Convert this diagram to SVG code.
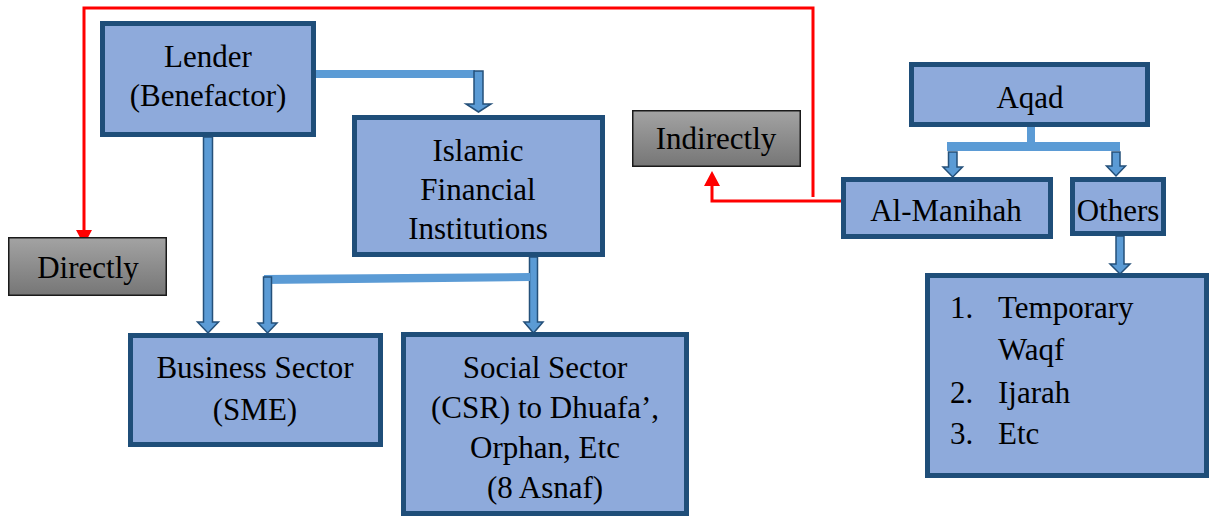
<svg xmlns="http://www.w3.org/2000/svg" width="1210" height="517" viewBox="0 0 1210 517">
<defs>
<linearGradient id="gray" x1="0" y1="0" x2="0" y2="1">
<stop offset="0" stop-color="#A3A3A3"/>
<stop offset="1" stop-color="#767676"/>
</linearGradient>
<style>
.box{fill:#8EAADB;stroke:#1F4E79;stroke-width:5}
.gbox{fill:url(#gray);stroke:#1a1a1a;stroke-width:1.5}
.t{font-size:31px;fill:#000;text-anchor:middle}
.tl{font-size:31px;fill:#000}
.bar{fill:#5B9BD5;stroke:none}
.arr{fill:#5B9BD5;stroke:#24507A;stroke-width:1.5;stroke-linejoin:miter}
.red{fill:none;stroke:#FF0000;stroke-width:3}
.redh{fill:#FF0000}
</style>
</defs>
<g id="connectors">
<path class="red" d="M813 197 V8 H84 V232"/>
<polygon class="redh" points="76,230 92,230 84,245"/>
<path class="red" d="M842 201 H712 V184"/>
<polygon class="redh" points="704,186 720,186 712,171"/>
<rect class="bar" x="314" y="70" width="161" height="8"/>
<polygon class="arr" points="474,71 483,71 483,104 491,104 478.5,112 466,104 474,104"/>
<polygon class="arr" points="203.5,137 212.5,137 212.5,322 218.5,322 208,333 197.5,322 203.5,322"/>
<polygon class="arr" points="529.5,257 537.5,257 537.5,322 543,322 533.5,333 524,322 529.5,322"/>
<polygon class="bar" points="264,275 530,273 530,281 264,284"/>
<polygon class="arr" points="263.5,277 271.5,277 271.5,323 277,323 267.5,333 258,323 263.5,323"/>
<rect class="bar" x="1027" y="126" width="8" height="18"/>
<rect class="bar" x="947" y="142" width="173" height="9"/>
<polygon class="arr" points="948.5,152 957,152 957,167 962.5,167 952.75,177 943,167 948.5,167"/>
<polygon class="arr" points="1112,152 1120,152 1120,166 1125.5,166 1116,176 1106.5,166 1112,166"/>
<polygon class="arr" points="1116,236 1124,236 1124,264 1130,264 1120,274 1110,264 1116,264"/>
</g>
<g font-family="'Liberation Serif', 'DejaVu Serif', serif">
<g id="lender">
<rect class="box" x="102.5" y="23.5" width="211" height="111"/>
<text class="t" x="208" y="67">Lender</text>
<text class="t" x="208" y="106">(Benefactor)</text>
</g>
<g id="ifi">
<rect class="box" x="354.5" y="117.5" width="248" height="137"/>
<text class="t" x="478" y="161">Islamic</text>
<text class="t" x="478" y="200">Financial</text>
<text class="t" x="478" y="239">Institutions</text>
</g>
<g id="directly">
<rect class="gbox" x="8.75" y="237.75" width="157.5" height="57.5"/>
<text class="t" x="88" y="278">Directly</text>
</g>
<g id="indirectly">
<rect class="gbox" x="632.75" y="110.75" width="167.5" height="55.5"/>
<text class="t" x="716" y="149">Indirectly</text>
</g>
<g id="business">
<rect class="box" x="130.5" y="335.5" width="250" height="109"/>
<text class="t" x="255" y="378">Business Sector</text>
<text class="t" x="255" y="420">(SME)</text>
</g>
<g id="social">
<rect class="box" x="403.5" y="334.5" width="283" height="179"/>
<text class="t" x="545" y="378">Social Sector</text>
<text class="t" x="545" y="418">(CSR) to Dhuafa’,</text>
<text class="t" x="545" y="458">Orphan, Etc</text>
<text class="t" x="545" y="498">(8 Asnaf)</text>
</g>
<g id="aqad">
<rect class="box" x="911.5" y="64.5" width="236" height="60"/>
<text class="t" x="1030" y="108">Aqad</text>
</g>
<g id="almanihah">
<rect class="box" x="843.5" y="179.5" width="207" height="57"/>
<text class="t" x="946" y="221">Al-Manihah</text>
</g>
<g id="others">
<rect class="box" x="1072.5" y="179.5" width="91" height="54"/>
<text class="t" x="1118" y="221">Others</text>
</g>
<g id="list">
<rect class="box" x="927.5" y="275.5" width="279" height="200"/>
<text class="tl" x="950" y="318">1.</text>
<text class="tl" x="998" y="318">Temporary</text>
<text class="tl" x="998" y="360">Waqf</text>
<text class="tl" x="950" y="403">2.</text>
<text class="tl" x="998" y="403">Ijarah</text>
<text class="tl" x="950" y="444">3.</text>
<text class="tl" x="998" y="444">Etc</text>
</g>
</g>
</svg>
